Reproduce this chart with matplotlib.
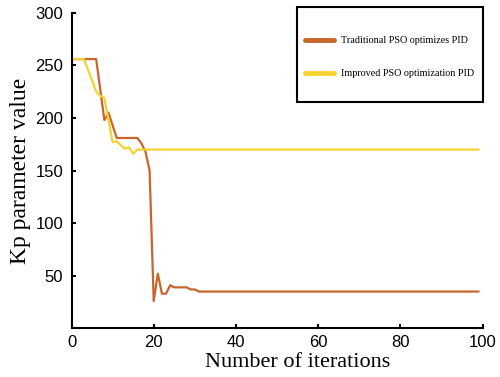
import numpy as np
import matplotlib
matplotlib.use('Agg')
import matplotlib.pyplot as plt
from matplotlib.patches import Rectangle

# iteration values
traditional_head = [256, 256, 256, 256, 256, 256, 256, 227, 198, 205, 193, 181,
                    181, 181, 181, 181, 181, 176, 168, 150, 26, 52, 33, 33,
                    41, 39, 39, 39, 39, 37, 37]
traditional_tail = 35
improved_head = [256, 256, 256, 256, 246, 236, 225, 221, 219, 198, 177, 178,
                 174, 171, 172, 166, 170]
improved_tail = 170
n_iter = 100

iters = np.arange(n_iter)
traditional = np.array(traditional_head + [traditional_tail] * (n_iter - len(traditional_head)))
improved = np.array(improved_head + [improved_tail] * (n_iter - len(improved_head)))

c_trad = '#c8652a'
c_imp = '#f6d231'

fig = plt.figure(figsize=(5, 3.77), dpi=100)
ax = fig.add_axes([0.143, 0.129, 0.822, 0.837])

ax.plot(iters, traditional, color=c_trad, lw=1.6, label='Traditional PSO optimizes PID')
ax.plot(iters, improved, color=c_imp, lw=1.6, label='Improved PSO optimization PID')

ax.set_xlim(0, 100)
ax.set_ylim(0, 300)
ax.set_xticks([0, 20, 40, 60, 80, 100])
ax.set_yticks([50, 100, 150, 200, 250, 300])

for s in ['top', 'right']:
    ax.spines[s].set_visible(False)
for s in ['left', 'bottom']:
    ax.spines[s].set_linewidth(1.5)
ax.tick_params(direction='in', length=3, width=1.5, labelsize=12)
ax.tick_params(axis='y', pad=6)
ax.tick_params(axis='x', pad=5)
for lab in ax.get_xticklabels() + ax.get_yticklabels():
    lab.set_family('Liberation Sans')

ax.set_xlabel('Number of iterations', family='Liberation Serif', size=16, labelpad=2)
ax.set_ylabel('Kp parameter value', family='Liberation Serif', size=17, labelpad=3)
ax.xaxis.label.set_x(0.549)

# legend box drawn as a frame in figure coords
fig.patches.append(Rectangle((296.7 / 500, 1 - 101.7 / 377), (483.3 - 296.7) / 500, (101.7 - 7.3) / 377,
                             transform=fig.transFigure, fill=False, lw=1.5, ec='black', zorder=5))
h1, = ax.plot([], [], color=c_trad, lw=3.5, solid_capstyle='round')
h2, = ax.plot([], [], color=c_imp, lw=3.5, solid_capstyle='round')
leg = fig.legend([h1, h2], ['Traditional PSO optimizes PID', 'Improved PSO optimization PID'],
                 loc='upper left', bbox_to_anchor=(300 / 500, 1 - 31 / 377), frameon=False,
                 prop={'family': 'Liberation Serif', 'size': 7.3}, handlelength=2.9,
                 handletextpad=0.6, labelspacing=2.35, borderpad=0)

fig.savefig('out.png', dpi=100)
